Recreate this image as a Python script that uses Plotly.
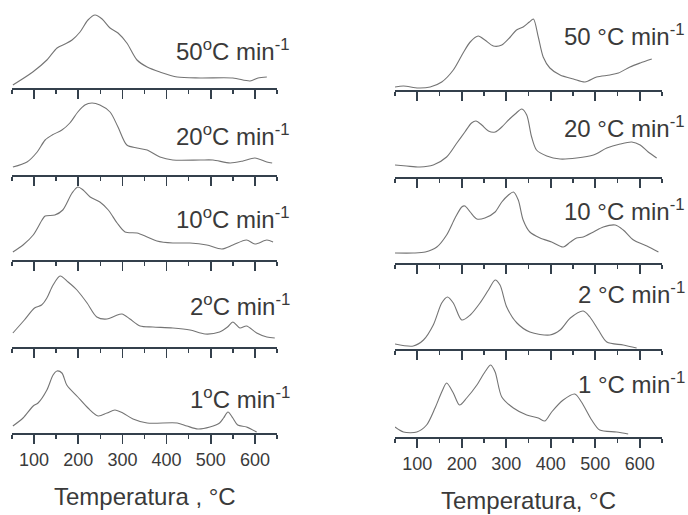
import plotly.graph_objects as go

# ---------------- data (temperature in °C, signal in arbitrary units) ----------------
# Left column
L50_T = [52, 97, 129, 152, 170, 186, 204, 222, 238, 254, 272, 290, 310, 333, 356, 385, 424, 476, 550, 589, 607, 627]
L50_I = [3, 16, 28, 40, 44, 48, 56, 68, 73, 69, 60, 55, 45, 28, 21, 16, 11, 10, 10, 7, 10, 11]

L20_T = [52, 84, 107, 125, 141, 163, 181, 199, 215, 231, 249, 272, 290, 310, 333, 356, 385, 414, 476, 505, 544, 573, 600, 627, 639]
L20_I = [8, 13, 23, 35, 40, 45, 52, 63, 70, 72, 70, 63, 48, 30, 27, 25, 18, 15, 15, 15, 12, 14, 17, 13, 12]

L10_T = [52, 75, 98, 118, 125, 147, 165, 186, 199, 211, 227, 249, 268, 288, 306, 333, 356, 378, 414, 453, 491, 525, 550, 581, 600, 627, 641]
L10_I = [8, 15, 25, 40, 44, 45, 50, 67, 73, 70, 63, 58, 50, 37, 28, 27, 23, 19, 17, 17, 15, 11, 15, 20, 16, 20, 18]

L2_T = [52, 78, 101, 117, 129, 143, 159, 177, 197, 220, 242, 265, 283, 299, 317, 340, 369, 414, 453, 487, 520, 538, 550, 566, 581, 604, 627, 645]
L2_I = [14, 27, 39, 42, 49, 62, 71, 65, 57, 44, 30, 28, 31, 33, 28, 21, 20, 19, 17, 13, 15, 20, 25, 19, 21, 14, 10, 9]

L1_T = [52, 75, 98, 109, 129, 143, 152, 163, 174, 199, 222, 245, 265, 283, 301, 324, 356, 424, 446, 471, 498, 520, 529, 539, 550, 561, 581, 604]
L1_I = [7, 15, 27, 30, 43, 58, 62, 60, 48, 36, 25, 17, 20, 23, 20, 14, 10, 10, 7, 4, 6, 10, 15, 21, 15, 8, 6, 1]

# Right column
R50_T = [50, 69, 102, 129, 155, 181, 203, 219, 237, 252, 271, 290, 309, 323, 338, 352, 361, 372, 383, 398, 421, 451, 477, 503, 533, 552, 578, 601, 627]
R50_I = [3, 4, 2, 3, 8, 20, 37, 48, 54, 50, 44, 45, 53, 60, 63, 68, 71, 53, 33, 22, 15, 11, 8, 13, 15, 17, 23, 27, 31]

R20_T = [50, 76, 106, 136, 166, 189, 207, 222, 232, 245, 260, 275, 290, 305, 320, 335, 346, 357, 368, 391, 421, 458, 496, 526, 556, 582, 601, 619, 638]
R20_I = [12, 11, 10, 12, 20, 34, 45, 54, 56, 52, 46, 45, 50, 57, 63, 68, 62, 40, 27, 21, 18, 19, 22, 29, 33, 35, 32, 25, 19]

R10_T = [50, 91, 118, 144, 166, 185, 200, 207, 219, 234, 252, 275, 290, 305, 316, 327, 338, 353, 376, 402, 428, 444, 458, 473, 496, 518, 545, 563, 586, 616, 642]
R10_I = [10, 10, 11, 16, 28, 45, 56, 57, 51, 44, 45, 51, 61, 68, 71, 63, 43, 31, 25, 21, 16, 21, 25, 26, 31, 36, 38, 33, 23, 17, 11]

R2_T = [50, 91, 114, 136, 155, 168, 181, 200, 219, 241, 260, 275, 286, 301, 324, 353, 398, 421, 444, 473, 488, 507, 526, 563, 593]
R2_I = [5, 3, 9, 24, 46, 52, 46, 29, 34, 46, 59, 69, 64, 42, 26, 17, 14, 19, 31, 38, 32, 19, 7, 4, 1]

R1_T = [50, 69, 99, 121, 140, 155, 166, 181, 195, 211, 234, 252, 265, 275, 290, 316, 346, 372, 387, 402, 428, 454, 469, 492, 510, 548, 574]
R1_I = [10, 5, 5, 12, 29, 45, 54, 44, 32, 39, 52, 65, 72, 65, 40, 29, 22, 19, 16, 25, 37, 43, 35, 17, 7, 5, 3]

RATES = ["50", "20", "10", "2", "1"]
TICK_VALUES = [100, 200, 300, 400, 500, 600]
LEFT_TITLE = "Temperatura , °C"
RIGHT_TITLE = "Temperatura, °C"

left_series = [(L50_T, L50_I), (L20_T, L20_I), (L10_T, L10_I), (L2_T, L2_I), (L1_T, L1_I)]
right_series = [(R50_T, R50_I), (R20_T, R20_I), (R10_T, R10_I), (R2_T, R2_I), (R1_T, R1_I)]

# ---------------- layout geometry (pixels) ----------------
W, H = 688, 515
FONT = "Liberation Sans, Arial, sans-serif"
TXT = "#3a3a3a"
AXC = "#34404c"
LINEC = "#747474"
PANEL_H = 80

cols = [
    dict(series=left_series, x0=12, x1=277, axis_y=[88, 175, 260, 347, 433],
         lab_x=292, lab_y=[50, 135, 218, 305, 398], fmt="{r}<sup>o</sup>C min<sup>-1</sup>",
         title=LEFT_TITLE, title_y=496),
    dict(series=right_series, x0=395, x1=662, axis_y=[90, 177, 263, 349, 437],
         lab_x=687, lab_y=[35, 127, 210, 293, 383], fmt="{r} °C min<sup>-1</sup>",
         title=RIGHT_TITLE, title_y=500),
]

fig = go.Figure()
layout = dict(width=W, height=H, margin=dict(l=0, r=0, t=0, b=0),
              paper_bgcolor="white", plot_bgcolor="rgba(0,0,0,0)", showlegend=False,
              font=dict(family=FONT, color=TXT))
annotations = []
k = 0
for c in cols:
    for i, (T, I) in enumerate(c["series"]):
        k += 1
        xa = "xaxis" if k == 1 else f"xaxis{k}"
        ya = "yaxis" if k == 1 else f"yaxis{k}"
        xr = "x" if k == 1 else f"x{k}"
        yr = "y" if k == 1 else f"y{k}"
        fig.add_trace(go.Scatter(x=T, y=I, mode="lines", xaxis=xr, yaxis=yr,
                                 line=dict(color=LINEC, width=1.1, shape="spline", smoothing=0.8),
                                 hoverinfo="skip"))
        ay = c["axis_y"][i]
        bottom = (i == 4)
        layout[xa] = dict(domain=[c["x0"] / W, c["x1"] / W], range=[50, 650], anchor=yr,
                          showline=True, linecolor=AXC, linewidth=2, mirror=False,
                          ticks="outside", ticklen=9, tickwidth=1.6, tickcolor=AXC,
                          tickmode="array", tickvals=TICK_VALUES,
                          showgrid=False, zeroline=False, showticklabels=bottom,
                          tickfont=dict(family=FONT, size=18, color=TXT),
                          minor=dict(dtick=50, tick0=0, ticks="outside", ticklen=4,
                                     tickwidth=1.6, tickcolor=AXC, showgrid=False))
        layout[ya] = dict(domain=[1 - ay / H, 1 - (ay - PANEL_H) / H], range=[0, PANEL_H],
                          visible=False, anchor=xr, fixedrange=True)
        annotations.append(dict(xref="paper", yref="paper", x=c["lab_x"] / W, y=1 - c["lab_y"][i] / H,
                                xanchor="right", yanchor="middle", showarrow=False,
                                text=c["fmt"].format(r=RATES[i]),
                                font=dict(family=FONT, size=24, color=TXT)))
    annotations.append(dict(xref="paper", yref="paper", x=(c["x0"] + c["x1"]) / 2 / W,
                            y=1 - c["title_y"] / H, xanchor="center", yanchor="middle",
                            showarrow=False, text=c["title"],
                            font=dict(family=FONT, size=24, color=TXT)))

layout["annotations"] = annotations
fig.update_layout(**layout)
fig.write_html("out.html", config={"displayModeBar": False, "staticPlot": True},
               post_script="document.body.style.margin='0';document.body.style.overflow='hidden';")
